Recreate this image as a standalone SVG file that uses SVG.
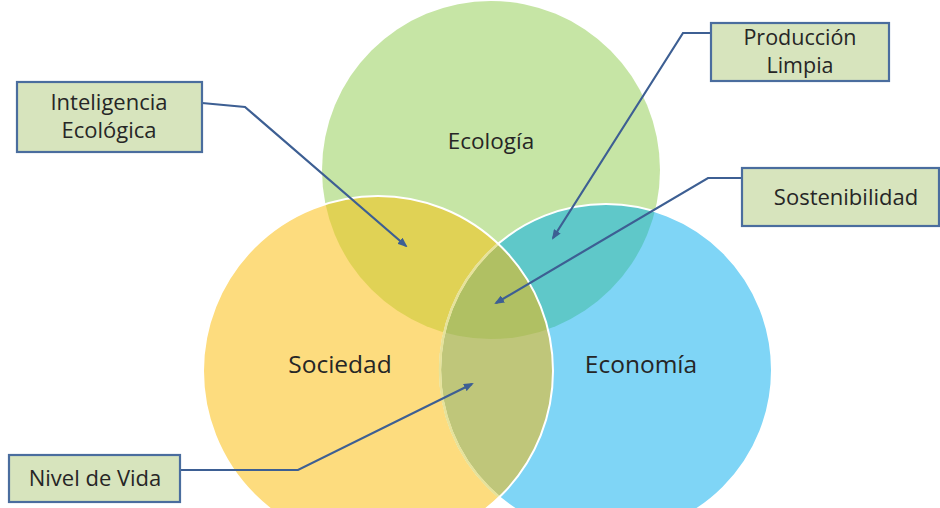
<svg xmlns="http://www.w3.org/2000/svg" width="940" height="508" viewBox="0 0 940 508">
<style>
.box{fill:#d7e4bd;stroke:#4a6d9e;stroke-width:2.2}
.lbl{font-family:"Open Sans","Noto Sans",sans-serif;fill:#262626;text-anchor:middle}
.conn{fill:none;stroke:#3d5f93;stroke-width:2.2;marker-end:url(#ah)}
</style>
<defs>
<marker id="ah" markerWidth="10" markerHeight="8" refX="8" refY="4" orient="auto" markerUnits="userSpaceOnUse">
<path d="M0,0 L10,4 L0,8 Z" fill="#3d5f93"/>
</marker>
<clipPath id="cEco"><circle cx="491" cy="170" r="169"/></clipPath>
<clipPath id="cSoc"><circle cx="378" cy="371" r="175"/></clipPath>
<clipPath id="cEcon"><circle cx="606" cy="370" r="166"/></clipPath>
</defs>
<rect width="940" height="508" fill="#fff"/>
<g id="circles">
<circle cx="491" cy="170" r="169" fill="#c6e5a5"/>
<circle cx="606" cy="370" r="166" fill="#7fd5f6"/>
<circle cx="378" cy="371" r="175" fill="#fddc7e"/>
<circle cx="378" cy="371" r="175" fill="#e0d255" clip-path="url(#cEco)"/>
<circle cx="606" cy="370" r="166" fill="#5fc8c9" clip-path="url(#cEco)"/>
<circle cx="606" cy="370" r="166" fill="#bfc67a" clip-path="url(#cSoc)"/>
<g clip-path="url(#cEco)"><circle cx="606" cy="370" r="166" fill="#b0c063" clip-path="url(#cSoc)"/></g>
<circle cx="606" cy="370" r="166" fill="none" stroke="#fff" stroke-width="2"/>
<circle cx="606" cy="370" r="166" fill="none" stroke="#e6e29a" stroke-width="2.5" clip-path="url(#cSoc)"/>
<circle cx="378" cy="371" r="175" fill="none" stroke="#fff" stroke-width="2"/>
</g>
<g id="ecologia"><text class="lbl" x="491" y="149" font-size="22.5">Ecología</text></g>
<g id="sociedad"><text class="lbl" x="340" y="373" font-size="24.5">Sociedad</text></g>
<g id="economia"><text class="lbl" x="641" y="373" font-size="24.5">Economía</text></g>
<g id="connectors">
<polyline class="conn" points="202,103 245,107 406,246"/>
<polyline class="conn" points="711,33 683,33 553,238"/>
<polyline class="conn" points="742,178 708,178 496,303"/>
<polyline class="conn" points="180,470 298,470 472,384"/>
</g>
<g id="inteligencia">
<rect class="box" x="17" y="82" width="185" height="70"/>
<text class="lbl" x="109" y="110" font-size="22">Inteligencia</text>
<text class="lbl" x="109" y="138" font-size="22">Ecológica</text>
</g>
<g id="produccion">
<rect class="box" x="711" y="23" width="178" height="58"/>
<text class="lbl" x="800" y="45" font-size="21.5">Producción</text>
<text class="lbl" x="800" y="73" font-size="21.5">Limpia</text>
</g>
<g id="sostenibilidad">
<rect class="box" x="742" y="168" width="197" height="58"/>
<text class="lbl" x="846" y="205" font-size="22">Sostenibilidad</text>
</g>
<g id="nivel">
<rect class="box" x="9" y="455" width="171" height="47"/>
<text class="lbl" x="95" y="486" font-size="22">Nivel de Vida</text>
</g>
</svg>
